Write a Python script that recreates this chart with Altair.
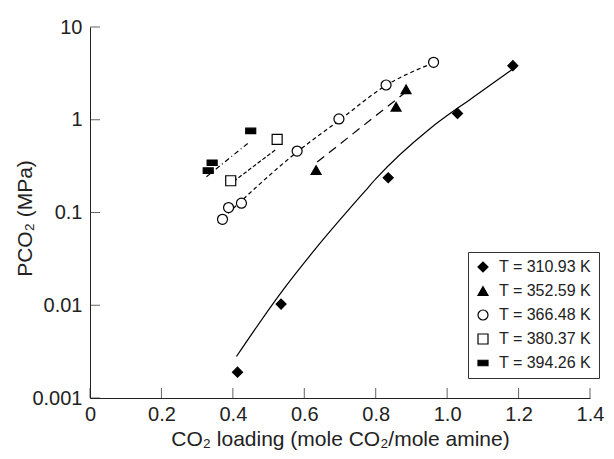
import altair as alt
import pandas as pd

labels = ["T = 310.93 K", "T = 352.59 K", "T = 366.48 K", "T = 380.37 K", "T = 394.26 K"]

# measured points
x310 = [0.413, 0.535, 0.835, 1.029, 1.184]
y310 = [0.0019, 0.0103, 0.237, 1.17, 3.83]
x352 = [0.633, 0.857, 0.885]
y352 = [0.287, 1.38, 2.13]
x366 = [0.371, 0.388, 0.424, 0.58, 0.697, 0.829, 0.962]
y366 = [0.0845, 0.113, 0.126, 0.46, 1.02, 2.37, 4.16]
x380 = [0.394, 0.524]
y380 = [0.22, 0.615]
x394 = [0.331, 0.342, 0.45]
y394 = [0.283, 0.344, 0.757]

# fitted curves
c310_x = [0.41, 0.535, 0.63, 0.77, 0.80, 0.955, 1.07, 1.185]
c310_y = [0.0028, 0.0137, 0.040, 0.17, 0.23, 0.82, 1.72, 3.55]
c352_x = [0.636, 0.885]
c352_y = [0.35, 2.0]
c366_x = [0.358, 0.58, 0.70, 0.829, 0.955]
c366_y = [0.077, 0.45, 1.0, 2.35, 4.0]
c380_x = [0.389, 0.521]
c380_y = [0.198, 0.48]
c394_x = [0.326, 0.442]
c394_y = [0.243, 0.557]

xtick_vals = [0, 0.2, 0.4, 0.6, 0.8, 1.0, 1.2, 1.4]
ytick_vals = [0.001, 0.01, 0.1, 1, 10]

FONT = "Liberation Sans"
INK = "#222222"

rows = []
for lab, xs, ys in zip(labels, [x310, x352, x366, x380, x394], [y310, y352, y366, y380, y394]):
    for a, b in zip(xs, ys):
        rows.append({"x": a, "y": b, "series": lab})
pts = pd.DataFrame(rows)

xscale = alt.Scale(domain=[0, 1.4], nice=False, zero=False)
yscale = alt.Scale(type="log", domain=[0.001, 10], nice=False)

xaxis = alt.Axis(values=xtick_vals,
                 labelExpr="datum.value == 0 ? '0' : format(datum.value, '.1f')",
                 ticks=False, grid=False, labelFlush=False, labelOverlap=False,
                 title="CO₂ loading (mole CO₂/mole amine)",
                 labelPadding=6, titlePadding=4)
yaxis = alt.Axis(values=ytick_vals, labelExpr="format(datum.value, '~g')",
                 ticks=False, grid=False, labelFlush=False, labelOverlap=False,
                 title="PCO₂ (MPa)", labelPadding=8,
                 titleX=-65, titleY=191, titleBaseline="middle")

shapes = ["diamond", "triangle-up", "circle", "square", "M-1,-0.55L1,-0.55L1,0.55L-1,0.55Z"]
fills = ["black", "black", "white", "white", "black"]

leg = dict(title=None, orient="none", legendX=378, legendY=225, strokeColor="#333333",
           padding=7, symbolSize=100, labelFontSize=16, labelFont=FONT, labelColor=INK,
           rowPadding=8, symbolStrokeWidth=1.2, labelOffset=8, fillColor="white")

points = alt.Chart(pts).mark_point(opacity=1, size=100, strokeWidth=1.2).encode(
    x=alt.X("x:Q", scale=xscale, axis=xaxis),
    y=alt.Y("y:Q", scale=yscale, axis=yaxis),
    shape=alt.Shape("series:N", scale=alt.Scale(domain=labels, range=shapes), legend=alt.Legend(**leg)),
    fill=alt.Fill("series:N", scale=alt.Scale(domain=labels, range=fills), legend=alt.Legend(**leg)),
    stroke=alt.Stroke("series:N", scale=alt.Scale(domain=labels, range=["black"] * 5), legend=alt.Legend(**leg)),
)

def curve(xs, ys, dash, interp="linear"):
    df = pd.DataFrame({"x": xs, "y": ys})
    kw = dict(color="black", strokeWidth=1.2, interpolate=interp)
    if dash:
        kw["strokeDash"] = dash
    return alt.Chart(df).mark_line(**kw).encode(x="x:Q", y="y:Q")

lines = [
    curve(c310_x, c310_y, None, "monotone"),
    curve(c352_x, c352_y, [9, 6]),
    curve(c366_x, c366_y, [4, 3], "monotone"),
    curve(c380_x, c380_y, [4, 2]),
    curve(c394_x, c394_y, [5, 3, 1, 3]),
]

xt = alt.Chart(pd.DataFrame({"x": xtick_vals})).mark_tick(
    orient="vertical", size=10, thickness=1, color=INK, yOffset=-5).encode(
    x="x:Q", y=alt.datum(0.001))
yt = alt.Chart(pd.DataFrame({"y": ytick_vals})).mark_tick(
    orient="horizontal", size=10, thickness=1, color=INK, xOffset=5).encode(
    y="y:Q", x=alt.datum(0))

chart = alt.layer(*lines, points, xt, yt).properties(
    width=500, height=371,
    autosize=alt.AutoSizeParams(type="none"),
    padding={"left": 82, "top": 19, "right": 16, "bottom": 53},
).configure_view(stroke=None).configure_axis(
    domainColor=INK, domainWidth=1, labelFont=FONT, labelFontSize=20, labelColor=INK,
    titleFont=FONT, titleFontSize=21, titleFontWeight="normal", titleColor=INK,
)

chart.save("out.html", embed_options={"renderer": "svg", "actions": False})
